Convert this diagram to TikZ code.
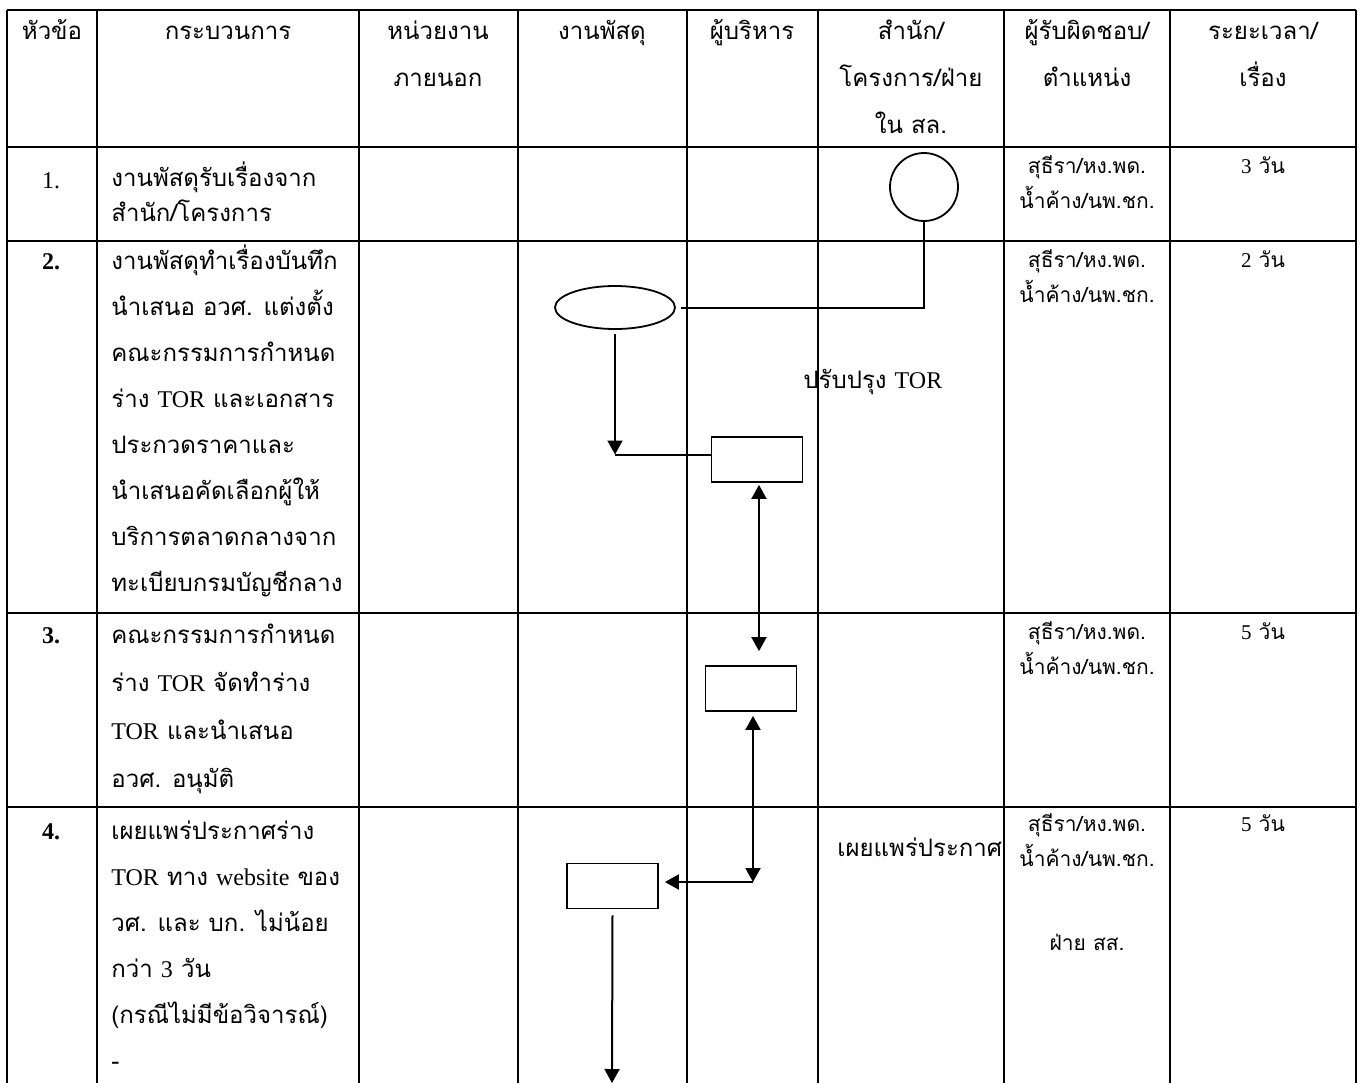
\documentclass[tikz,border=0pt]{standalone}
\usepackage{fontspec}
\setmainfont{Liberation Serif}
\newfontfamily\thai[Script=Thai]{Loma}
\usetikzlibrary{arrows.meta,shapes.geometric}
\newcommand{\lat}[1]{{\rmfamily #1}}

\tikzset{
    hd/.style={anchor=north,align=center,inner sep=0pt,font=\thai\fontsize{12}{23.5}\selectfont},
    proc/.style={anchor=north west,align=left,inner sep=0pt,font=\thai\fontsize{12}{#1}\selectfont},
    proc/.default=23,
    who/.style={anchor=north,align=center,inner sep=0pt,font=\thai\fontsize{10.5}{17.5}\selectfont},
    num/.style={anchor=base,inner sep=0pt,font=\fontsize{12}{14}\selectfont},
    note/.style={anchor=base west,inner sep=0pt,font=\thai\fontsize{12}{14}\selectfont},
    box/.style={rectangle,draw,line width=0.9pt,minimum width=45.5pt,minimum height=22.5pt,inner sep=0pt},
}

\begin{document}
\begin{tikzpicture}[x=0.5pt,y=-0.5pt]
    \useasboundingbox (0,0) rectangle (1362,1083);

% table
\begin{scope}[line width=1.35pt]
    \draw (7,10) -- (1356,10);
    \draw (7,147) -- (1356,147);
    \draw (7,241) -- (1356,241);
    \draw (7,613) -- (1356,613);
    \draw (7,807) -- (1356,807);
    \draw (7,10) -- (7,1083);
    \draw (97,10) -- (97,1083);
    \draw (359,10) -- (359,1083);
    \draw (518,10) -- (518,1083);
    \draw (687,10) -- (687,1083);
    \draw (818,10) -- (818,1083);
    \draw (1004,10) -- (1004,1083);
    \draw (1170,10) -- (1170,1083);
    \draw (1356,10) -- (1356,1083);
\end{scope}

    \node[hd] (h1) at (52,6) {\strut หัวข้อ};
    \node[hd] (h2) at (228,6) {\strut กระบวนการ};
    \node[hd] (h3) at (438,6) {\strut หน่วยงาน\\ภายนอก};
    \node[hd] (h4) at (602,6) {\strut งานพัสดุ};
    \node[hd] (h5) at (752,6) {\strut ผู้บริหาร};
    \node[hd] (h6) at (911,6) {\strut สำนัก/\\โครงการ/ฝ่าย\\ใน สล.};
    \node[hd] (h7) at (1087,6) {\strut ผู้รับผิดชอบ/\\ตำแหน่ง};
    \node[hd] (h8) at (1263,6) {\strut ระยะเวลา/\\เรื่อง};

    \node[num] (n1) at (51,188) {1.};
    \node[num] (n2) at (51,269) {\textbf{2.}};
    \node[num] (n3) at (51,643) {\textbf{3.}};
    \node[num] (n4) at (51,839) {\textbf{4.}};

    \node[proc=17.5] (p1) at (111,161) {\strut งานพัสดุรับเรื่องจาก\\สำนัก/โครงการ};
    \node[proc] (p2) at (111,237) {\strut งานพัสดุทำเรื่องบันทึก\\นำเสนอ อวศ. แต่งตั้ง\\คณะกรรมการกำหนด\\ร่าง \lat{TOR} และเอกสาร\\ประกวดราคาและ\\นำเสนอคัดเลือกผู้ให้\\บริการตลาดกลางจาก\\ทะเบียบกรมบัญชีกลาง};
    \node[proc=24] (p3) at (111,609.4) {\strut คณะกรรมการกำหนด\\ร่าง \lat{TOR} จัดทำร่าง\\\lat{TOR} และนำเสนอ\\อวศ. อนุมัติ};
    \node[proc] (p4) at (111,807) {\strut เผยแพร่ประกาศร่าง\\\lat{TOR} ทาง \lat{website} ของ\\วศ. และ บก. ไม่น้อย\\กว่า \lat{3} วัน\\(กรณีไม่มีข้อวิจารณ์)\\-};

    \node[who] (r1) at (1087,148.5) {\strut สุธีรา/หง.พด.\\น้ำค้าง/นพ.ชก.};
    \node[who] (r2) at (1087,242.5) {\strut สุธีรา/หง.พด.\\น้ำค้าง/นพ.ชก.};
    \node[who] (r3) at (1087,614.5) {\strut สุธีรา/หง.พด.\\น้ำค้าง/นพ.ชก.};
    \node[who] (r4) at (1087,806.5) {\strut สุธีรา/หง.พด.\\น้ำค้าง/นพ.ชก.\\[24.5pt]ฝ่าย สส.};

    \node[who] (t1) at (1263,148.5) {\strut\lat{3} วัน};
    \node[who] (t2) at (1263,242.5) {\strut\lat{2} วัน};
    \node[who] (t3) at (1263,614.5) {\strut\lat{5} วัน};
    \node[who] (t4) at (1263,806.5) {\strut\lat{5} วัน};

% flow
    \node[circle,draw,line width=0.9pt,minimum size=34pt,inner sep=0pt] (start) at (924,187) {};
    \node[ellipse,draw,line width=0.9pt,minimum width=60pt,minimum height=21.5pt,inner sep=0pt] (memo) at (615,307.5) {};
    \node[box] (sign) at (757,459.5) {};
    \node[box] (draft) at (751,688.5) {};
    \node[box] (post) at (612.5,886) {};

    \node[note] (fix) at (803,388) {ปรับปรุง \lat{TOR}};
    \node[note] (pub) at (837,856) {เผยแพร่ประกาศ};

    \coordinate (j1) at (start.south |- memo.east);
    \coordinate (j2) at ([yshift=2.5pt]sign.west);
    \coordinate (j3) at ([xshift=3pt,yshift=2pt]post.east);
    \coordinate (end) at (612,1083);

\begin{scope}[line width=1pt,>={Triangle[length=7pt,width=7.5pt]}]
    \draw (start.south) -- (j1) -- ([xshift=2.5pt]memo.east);
    \draw[->] ([yshift=-2pt]memo.south) -- (memo.south |- j2);
    \draw (memo.south |- j2) -- (j2);
    \draw[<->] ([xshift=1pt,yshift=-1pt]sign.south) -- ([xshift=4pt,yshift=7pt]draft.north);
    \draw[<->] ([xshift=1pt,yshift=-2pt]draft.south) -- ([xshift=1pt]draft.south |- j3);
    \draw[->] ([xshift=1pt]draft.south |- j3) -- (j3);
    \draw[->] ([yshift=-3pt]post.south) -- (end);
\end{scope}
\end{tikzpicture}
\end{document}
